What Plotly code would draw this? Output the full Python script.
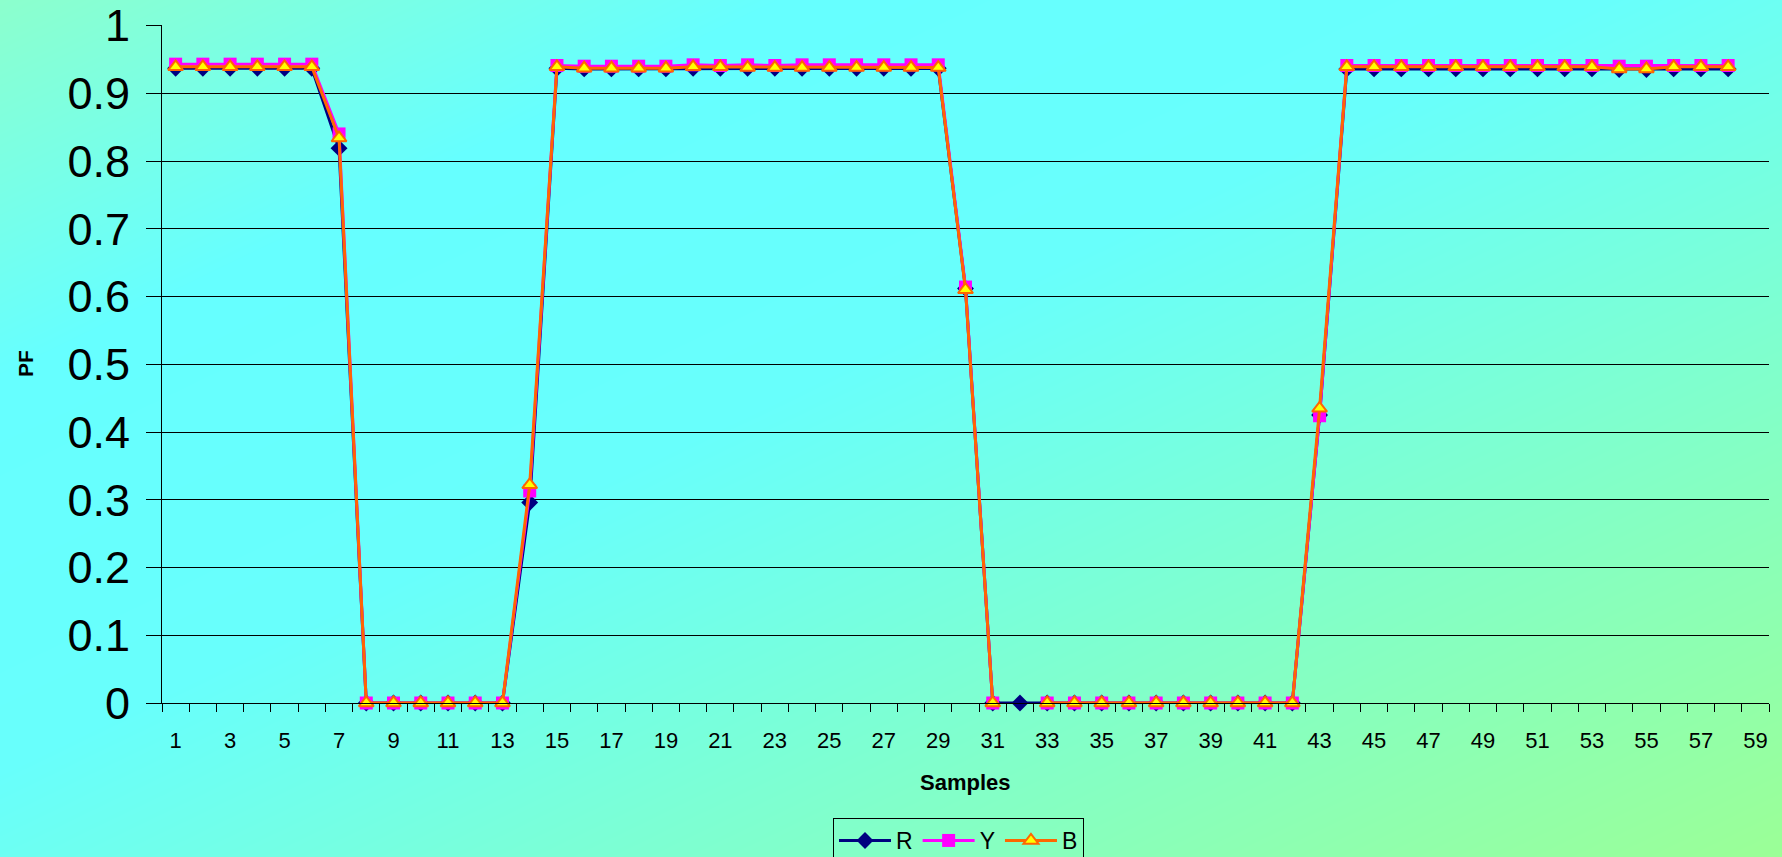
import numpy as np
import plotly.graph_objects as go

# Sample index (category axis runs 1..59, data for 1..58)
samples = list(range(1, 59))
x_ticks = list(range(1, 60, 2))
y_ticks = [0, 0.1, 0.2, 0.3, 0.4, 0.5, 0.6, 0.7, 0.8, 0.9, 1]
y_labels = ["0", "0.1", "0.2", "0.3", "0.4", "0.5", "0.6", "0.7", "0.8", "0.9", "1"]

# Power factor per phase
pf_r = [0.937, 0.937, 0.937, 0.937, 0.937, 0.937, 0.819,
        0, 0, 0, 0, 0, 0,
        0.296,
        0.937, 0.936, 0.936, 0.936, 0.936, 0.937, 0.937, 0.937, 0.937, 0.937, 0.937, 0.937, 0.937, 0.937, 0.937,
        0.612,
        0, 0,
        0, 0, 0, 0, 0, 0, 0, 0, 0, 0,
        0.425,
        0.936, 0.936, 0.936, 0.936, 0.936, 0.936, 0.936, 0.936, 0.936, 0.936, 0.935, 0.935, 0.936, 0.936, 0.936]

pf_y = [0.943, 0.943, 0.943, 0.943, 0.943, 0.943, 0.840,
        0, 0, 0, 0, 0, 0,
        0.313,
        0.941, 0.940, 0.940, 0.940, 0.940, 0.942, 0.941, 0.942, 0.941, 0.942, 0.942, 0.942, 0.942, 0.942, 0.942,
        0.614,
        0, None,
        0, 0, 0, 0, 0, 0, 0, 0, 0, 0,
        0.424,
        0.941, 0.941, 0.941, 0.941, 0.941, 0.941, 0.941, 0.941, 0.941, 0.941, 0.940, 0.940, 0.941, 0.941, 0.941]

pf_b = [0.939, 0.939, 0.939, 0.939, 0.939, 0.939, 0.834,
        0, 0, 0, 0, 0, 0,
        0.322,
        0.939, 0.937, 0.937, 0.937, 0.937, 0.939, 0.939, 0.938, 0.938, 0.938, 0.938, 0.938, 0.938, 0.938, 0.938,
        0.610,
        0, None,
        0, 0, 0, 0, 0, 0, 0, 0, 0, 0,
        0.435,
        0.939, 0.939, 0.939, 0.939, 0.939, 0.939, 0.939, 0.939, 0.939, 0.939, 0.936, 0.936, 0.939, 0.939, 0.939]

W, H = 1782, 857
FONT = "Liberation Sans, Arial, sans-serif"

# plot area in pixels
L, R, T, B = 162, 1769, 25, 703

fig = go.Figure()

# diagonal gradient backdrop spanning the whole figure
n = 40
gx = np.linspace(0, 1, n)
gy = np.linspace(0, 1, n)
GX, GY = np.meshgrid(gx, gy)
grad = (GX + (1 - GY)) / 2
fig.add_trace(go.Heatmap(
    x=gx, y=gy, z=grad, zmin=0, zmax=1, zsmooth="best", showscale=False,
    hoverinfo="skip", xaxis="x", yaxis="y",
    colorscale=[[0, "rgb(140,255,205)"], [0.22, "rgb(102,255,255)"],
                [0.45, "rgb(104,255,252)"], [1, "rgb(155,255,150)"]],
))

common = dict(xaxis="x2", yaxis="y2", mode="lines+markers", cliponaxis=False)
fig.add_trace(go.Scatter(x=samples, y=pf_r, name="R",
                         line=dict(color="#000080", width=3),
                         marker=dict(symbol="diamond", size=13, color="#000080"),
                         **common))
fig.add_trace(go.Scatter(x=samples, y=pf_y, name="Y",
                         line=dict(color="#FF00FF", width=3),
                         marker=dict(symbol="square", size=13, color="#FF00FF"),
                         **common))
fig.add_trace(go.Scatter(x=samples, y=pf_b, name="B",
                         line=dict(color="#FF6600", width=3),
                         marker=dict(symbol="triangle-up", size=13, color="#FFFF00",
                                     line=dict(color="#FF6600", width=2)),
                         **common))

fig.update_layout(
    width=W, height=H,
    margin=dict(l=0, r=0, t=0, b=0, autoexpand=False),
    paper_bgcolor="white",
    plot_bgcolor="rgba(0,0,0,0)",
    font=dict(family=FONT, color="black"),
    xaxis=dict(domain=[0, 1], range=[0, 1], visible=False, fixedrange=True),
    yaxis=dict(domain=[0, 1], range=[0, 1], visible=False, fixedrange=True),
    xaxis2=dict(
        domain=[L / W, R / W], anchor="y2",
        range=[0.5, 59.5],
        tickmode="array", tickvals=x_ticks, ticktext=[str(v) for v in x_ticks],
        ticks="", ticklabelstandoff=18,
        tickfont=dict(size=22, family=FONT),
        minor=dict(ticks="outside", ticklen=8, tickwidth=1, tickcolor="black",
                   tick0=0.5, dtick=1, showgrid=False),
        showgrid=False, zeroline=False,
        showline=True, linecolor="black", linewidth=1,
    ),
    yaxis2=dict(
        domain=[1 - B / H, 1 - T / H], anchor="x2",
        range=[0, 1.0008],
        tickmode="array", tickvals=y_ticks, ticktext=y_labels,
        ticks="outside", ticklen=15, tickwidth=1, tickcolor="black",
        ticklabelstandoff=7,
        tickfont=dict(size=45, family=FONT),
        showgrid=True, gridcolor="black", gridwidth=1,
        zeroline=False,
        showline=True, linecolor="black", linewidth=1,
    ),
    legend=dict(
        orientation="h", x=833 / W, xanchor="left", y=1 - 818 / H, yanchor="top",
        bgcolor="rgba(0,0,0,0)", bordercolor="black", borderwidth=1,
        font=dict(size=23, family=FONT), itemwidth=52,
    ),
    annotations=[
        dict(text="<b>PF</b>", x=25 / W, y=1 - 364 / H, xref="paper", yref="paper",
             showarrow=False, textangle=-90, font=dict(size=21, family=FONT),
             xanchor="center", yanchor="middle"),
        dict(text="<b>Samples</b>", x=(L + R) / 2 / W, y=1 - 782 / H, xref="paper", yref="paper",
             showarrow=False, font=dict(size=22, family=FONT),
             xanchor="center", yanchor="middle"),
    ],
)

fig.write_html("out.html")
